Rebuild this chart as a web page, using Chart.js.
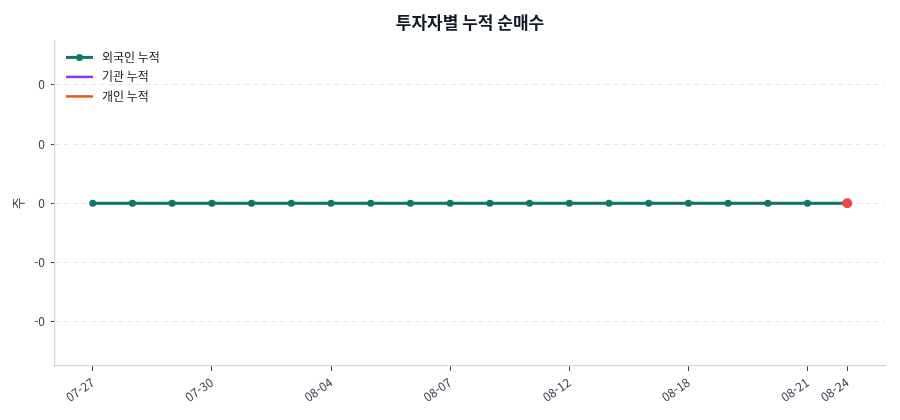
<!DOCTYPE html>
<html lang="ko">

<head>
    <meta charset="UTF-8">
    <title>투자자별 누적 순매수</title>
    <script src="https://cdn.jsdelivr.net/npm/chart.js"></script>
    <style>
        body {
            margin: 0;
            background: #ffffff;
        }

        #wrap {
            width: 900px;
            height: 420px;
        }
    </style>
</head>

<body>
    <div id="wrap"><canvas id="chart"></canvas></div>

    <script>
        // 날짜 (거래일)
        const dates = ["07-27", "07-28", "07-29", "07-30", "07-31", "08-01", "08-04", "08-05", "08-06", "08-07",
            "08-08", "08-11", "08-12", "08-13", "08-14", "08-18", "08-19", "08-20", "08-21", "08-24"];
        // 누적 순매수 (주)
        const foreignCum = [0, 0, 0, 0, 0, 0, 0, 0, 0, 0, 0, 0, 0, 0, 0, 0, 0, 0, 0, 0];
        const institutionCum = [0, 0, 0, 0, 0, 0, 0, 0, 0, 0, 0, 0, 0, 0, 0, 0, 0, 0, 0, 0];
        const individualCum = [0, 0, 0, 0, 0, 0, 0, 0, 0, 0, 0, 0, 0, 0, 0, 0, 0, 0, 0, 0];
        // 표시할 x 눈금 위치, y 눈금 값
        const xTickIndex = [0, 3, 6, 9, 12, 15, 18, 19];
        const yTicks = [-0.04, -0.02, 0, 0.02, 0.04];

        const FONT = "'Noto Sans CJK KR', 'Noto Sans', sans-serif";
        const last = dates.length - 1;

        const toPoints = arr => arr.map((v, i) => ({ x: i, y: v }));

        // 차트 영역 안쪽 좌상단 범례
        const innerLegend = {
            id: "innerLegend",
            afterDraw(chart) {
                const c = chart.ctx;
                const area = chart.chartArea;
                c.save();
                c.font = "12px " + FONT;
                c.textBaseline = "middle";
                chart.data.datasets.forEach((ds, i) => {
                    const y = area.top + 17 + i * 19.5;
                    const x0 = area.left + 11;
                    c.strokeStyle = ds.borderColor;
                    c.lineWidth = ds.legendMarker ? 3 : 2.5;
                    c.beginPath();
                    c.moveTo(x0, y);
                    c.lineTo(x0 + 27, y);
                    c.stroke();
                    if (ds.legendMarker) {
                        c.fillStyle = ds.borderColor;
                        c.beginPath();
                        c.arc(x0 + 13.5, y, 3.5, 0, Math.PI * 2);
                        c.fill();
                    }
                    c.fillStyle = "#111827";
                    c.fillText(ds.label, x0 + 36, y);
                });
                c.restore();
            }
        };

        new Chart(document.getElementById("chart"), {
            type: "line",
            data: {
                datasets: [
                    {
                        label: "외국인 누적",
                        data: toPoints(foreignCum),
                        borderColor: "#0f766e",
                        borderWidth: 3,
                        legendMarker: true,
                        pointRadius: ctx => ctx.dataIndex === last ? 5 : 3.5,
                        pointBackgroundColor: ctx => ctx.dataIndex === last ? "#ef4444" : "#0f766e",
                        pointBorderWidth: 0,
                    },
                    {
                        label: "기관 누적",
                        data: toPoints(institutionCum),
                        borderColor: "#9333ea",
                        borderWidth: 2,
                        pointRadius: 0,
                    },
                    {
                        label: "개인 누적",
                        data: toPoints(individualCum),
                        borderColor: "#ea580c",
                        borderWidth: 2,
                        pointRadius: 0,
                    },
                ],
            },
            options: {
                responsive: true,
                maintainAspectRatio: false,
                animation: false,
                layout: { padding: { left: 0, right: 15, top: 0, bottom: 0 } },
                plugins: {
                    legend: { display: false },
                    tooltip: { enabled: false },
                    title: {
                        display: true,
                        fullSize: false,
                        text: "투자자별 누적 순매수",
                        color: "#111827",
                        font: { family: FONT, size: 17, weight: "bold" },
                        padding: { top: 12, bottom: 8 },
                    },
                },
                scales: {
                    x: {
                        type: "linear",
                        min: -0.95,
                        max: last + 0.95,
                        afterBuildTicks: axis => {
                            axis.ticks = xTickIndex.map(v => ({ value: v }));
                        },
                        afterFit: axis => { axis.height = 54; },
                        ticks: {
                            autoSkip: false,
                            minRotation: 35,
                            maxRotation: 35,
                            color: "#374151",
                            font: { family: FONT, size: 12 },
                            padding: 4,
                            callback: v => dates[v],
                        },
                        grid: {
                            drawOnChartArea: false,
                            drawTicks: true,
                            tickLength: 5,
                            tickColor: "#374151",
                        },
                        border: { color: "#d1d5db", width: 1.2 },
                    },
                    y: {
                        min: -0.055,
                        max: 0.055,
                        afterBuildTicks: axis => {
                            axis.ticks = yTicks.map(v => ({ value: v }));
                        },
                        afterFit: axis => { axis.width = 55; },
                        title: {
                            display: true,
                            text: "주",
                            color: "#374151",
                            font: { family: FONT, size: 13 },
                            padding: { top: 10, bottom: 0 },
                        },
                        ticks: {
                            color: "#374151",
                            font: { family: FONT, size: 12 },
                            padding: 6,
                            callback: v => v.toFixed(0),
                        },
                        grid: {
                            color: "#e5e7eb",
                            tickColor: "#374151",
                            tickLength: 4,
                            drawTicks: true,
                        },
                        border: { color: "#d1d5db", width: 1.2, dash: [5, 4] },
                    },
                },
            },
            plugins: [innerLegend],
        });
    </script>
</body>

</html>
